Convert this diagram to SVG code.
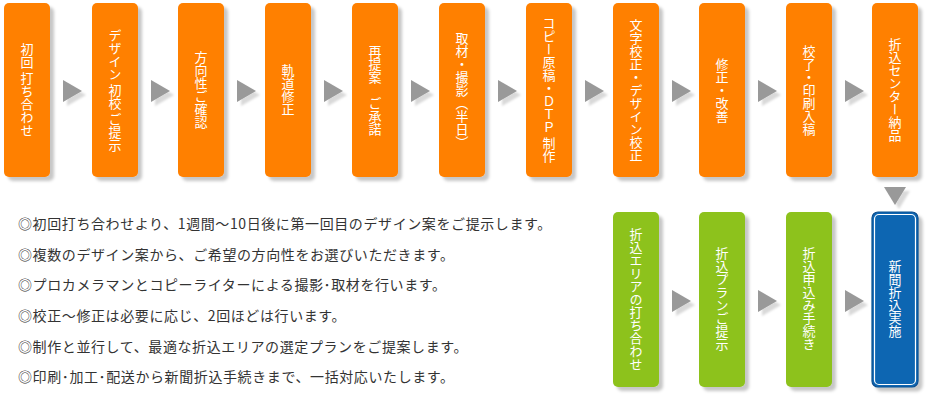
<svg xmlns="http://www.w3.org/2000/svg" width="940" height="400" viewBox="0 0 940 400">
<defs>
<filter id="sh" x="-20%" y="-10%" width="150%" height="130%">
<feDropShadow dx="4" dy="4" stdDeviation="1.5" flood-color="#000" flood-opacity="0.22"/>
</filter>
<filter id="ash" x="-30%" y="-30%" width="180%" height="180%">
<feDropShadow dx="4" dy="4" stdDeviation="1.2" flood-color="#000" flood-opacity="0.15"/>
</filter>
</defs>
<style>
.o{fill:#ff8000;filter:url(#sh)}
.g{fill:#8dc21f;filter:url(#sh)}
.b{fill:#0a66b2;stroke:#0b4f8f;stroke-width:1.2;filter:url(#sh)}
.bi{fill:none;stroke:#ffffff;stroke-width:1.2}
.vt{font-family:"Noto Sans CJK JP",sans-serif;font-size:13px;fill:#ffffff;writing-mode:vertical-rl;text-anchor:middle}
.ar{fill:#999999;filter:url(#ash)}
.tx{font-family:"Noto Sans CJK JP",sans-serif;font-size:14px;letter-spacing:0.6px;fill:#333333}
</style>
<g id="n1"><rect class="o" x="4" y="3" width="46" height="174" rx="5"/><text class="vt" x="27" y="90">初回 打ち合わせ</text></g>
<g id="n2"><rect class="o" x="92" y="3" width="46" height="174" rx="5"/><text class="vt" x="115" y="90">デザイン 初校 ご提示</text></g>
<g id="n3"><rect class="o" x="178" y="3" width="46" height="174" rx="5"/><text class="vt" x="201" y="90">方向性ご確認</text></g>
<g id="n4"><rect class="o" x="265" y="3" width="46" height="174" rx="5"/><text class="vt" x="288" y="90">軌道修正</text></g>
<g id="n5"><rect class="o" x="352" y="3" width="46" height="174" rx="5"/><text class="vt" x="375" y="90">再提案　ご承諾</text></g>
<g id="n6"><rect class="o" x="439" y="3" width="46" height="174" rx="5"/><text class="vt" x="462" y="90">取材・撮影（半日）</text></g>
<g id="n7"><rect class="o" x="526" y="3" width="46" height="174" rx="5"/><text class="vt" x="549" y="90">コピー原稿・ＤＴＰ 制作</text></g>
<g id="n8"><rect class="o" x="613" y="3" width="46" height="174" rx="5"/><text class="vt" x="636" y="90">文字校正・デザイン校正</text></g>
<g id="n9"><rect class="o" x="699" y="3" width="46" height="174" rx="5"/><text class="vt" x="722" y="90">修正・改善</text></g>
<g id="n10"><rect class="o" x="786" y="3" width="46" height="174" rx="5"/><text class="vt" x="809" y="90">校了・印刷入稿</text></g>
<g id="n11"><rect class="o" x="872" y="3" width="46" height="174" rx="5"/><text class="vt" x="895" y="90">折込センター納品</text></g>
<g id="n12"><rect class="g" x="613" y="212" width="46" height="175" rx="5"/><text class="vt" x="636" y="299">折込エリアの打ち合わせ</text></g>
<g id="n13"><rect class="g" x="699" y="212" width="46" height="175" rx="5"/><text class="vt" x="722" y="299">折込プランご提示</text></g>
<g id="n14"><rect class="g" x="786" y="212" width="46" height="175" rx="5"/><text class="vt" x="809" y="299">折込申込み手続き</text></g>
<g id="n15"><rect class="b" x="872" y="212" width="46" height="175" rx="6"/><rect class="bi" x="874.5" y="214.5" width="41" height="170" rx="4.5"/><text class="vt" x="895" y="299">新聞折込実施</text></g>
<g id="connectors">
<polygon class="ar" points="63,80 63,102 82,91"/>
<polygon class="ar" points="151,80 151,102 170,91"/>
<polygon class="ar" points="237,80 237,102 256,91"/>
<polygon class="ar" points="324,80 324,102 343,91"/>
<polygon class="ar" points="411,80 411,102 430,91"/>
<polygon class="ar" points="498,80 498,102 517,91"/>
<polygon class="ar" points="585,80 585,102 604,91"/>
<polygon class="ar" points="672,80 672,102 691,91"/>
<polygon class="ar" points="758,80 758,102 777,91"/>
<polygon class="ar" points="845,80 845,102 864,91"/>
<polygon class="ar" points="884,187 906,187 895,205"/>
<polygon class="ar" points="672,290 672,312 691,301"/>
<polygon class="ar" points="758,290 758,312 777,301"/>
<polygon class="ar" points="845,290 845,312 864,301"/>
</g>
<g id="notes">
<text class="tx" x="18" y="229">◎初回打ち合わせより、1週間～10日後に第一回目のデザイン案をご提示します。</text>
<text class="tx" x="18" y="260">◎複数のデザイン案から、ご希望の方向性をお選びいただきます。</text>
<text class="tx" x="18" y="290">◎プロカメラマンとコピーライターによる撮影･取材を行います。</text>
<text class="tx" x="18" y="321">◎校正～修正は必要に応じ、2回ほどは行います。</text>
<text class="tx" x="18" y="352">◎制作と並行して、最適な折込エリアの選定プランをご提案します。</text>
<text class="tx" x="18" y="382">◎印刷･加工･配送から新聞折込手続きまで、一括対応いたします。</text>
</g>
</svg>
